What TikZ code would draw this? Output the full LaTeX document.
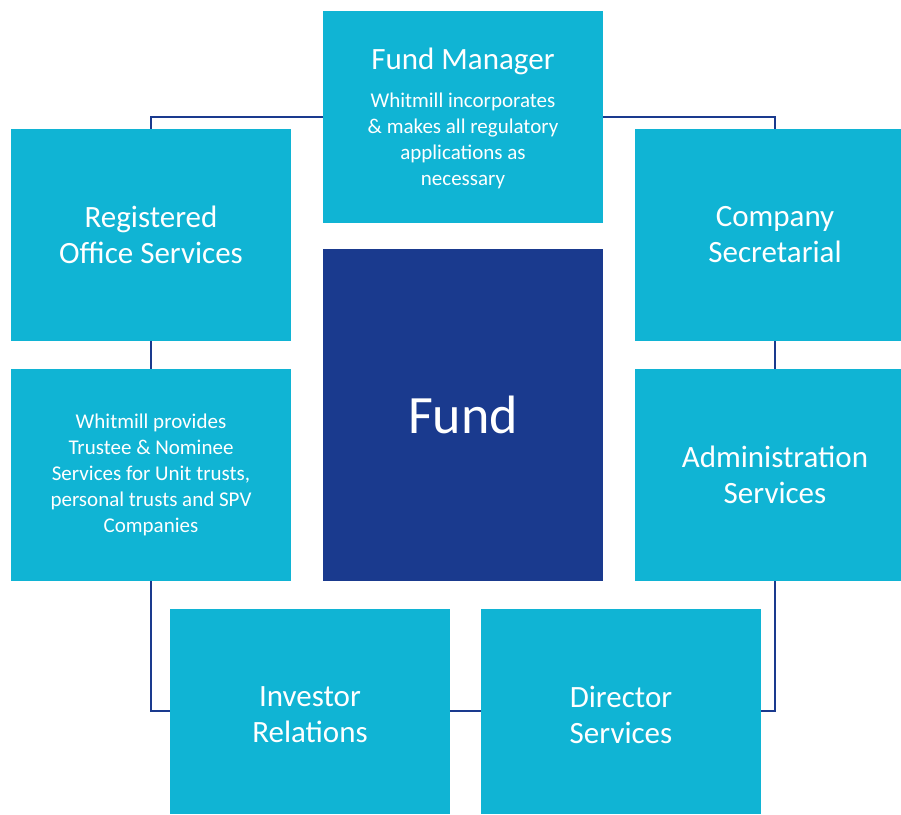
\documentclass[tikz,border=0pt]{standalone}
\usepackage{fontspec}
\setmainfont{Carlito}
\usetikzlibrary{positioning}

\definecolor{boxcyan}{RGB}{16,180,212}
\definecolor{funddark}{RGB}{26,58,142}

\begin{document}
\begin{tikzpicture}[x=1pt, y=-1pt,
    servicebox/.style={rectangle, fill=boxcyan, text=white, align=center,
        minimum width=280pt, minimum height=212pt, inner sep=0pt,
        font=\fontsize{31}{36}\selectfont},
    smalltext/.style={text=white, align=center, inner sep=0pt,
        font=\fontsize{21}{26}\selectfont},
    link/.style={draw=funddark, line width=2pt}]

\path[use as bounding box, clip] (0,0) rectangle (901,814);

%the centre
\node[servicebox, fill=funddark, minimum height=332pt,
      font=\fontsize{54}{60}\selectfont] (fund) at (463,415) {Fund};

%services round it
\node[servicebox] (manager) at (463,117) {};
\node[text=white, font=\fontsize{31}{36}\selectfont] (managertitle)
    at ([yshift=56pt]manager.center) {Fund Manager};
\node[smalltext] (managertext) at ([yshift=-24pt]manager.center)
    {Whitmill incorporates\\\& makes all regulatory\\applications as\\necessary};
\node[servicebox] (office) at (151,235) {Registered\\Office Services};
\node[servicebox] (secretarial) at (775,235) {Company\\Secretarial};
\node[servicebox, font=\fontsize{21}{26}\selectfont] (trustee) at (151,475)
    {Whitmill provides\\Trustee \& Nominee\\Services for Unit trusts,\\personal trusts and SPV\\Companies};
\node[servicebox] (admin) at (775,475) {Administration\\Services};
\node[servicebox, minimum height=205pt] (investor) at (310,711) {};
\node[servicebox, minimum height=205pt] (director) at (621,711) {};
\node[servicebox, fill=none, minimum size=0pt] (investortext)
    at ([yshift=-4pt]investor.center) {Investor\\Relations};
\node[servicebox, fill=none, minimum size=0pt] (directortext)
    at ([yshift=-4pt]director.center) {Director\\Services};

%connectors
\draw[link] (office.north) |- (manager.west);
\draw[link] (secretarial.north) |- (manager.east);
\draw[link] (office.south) -- (trustee.north);
\draw[link] (secretarial.south) -- (admin.north);
\draw[link] (trustee.south) |- (investor.west);
\draw[link] (admin.south) |- (director.east);
\draw[link] (investor.east) -- (director.west);

\end{tikzpicture}
\end{document}
